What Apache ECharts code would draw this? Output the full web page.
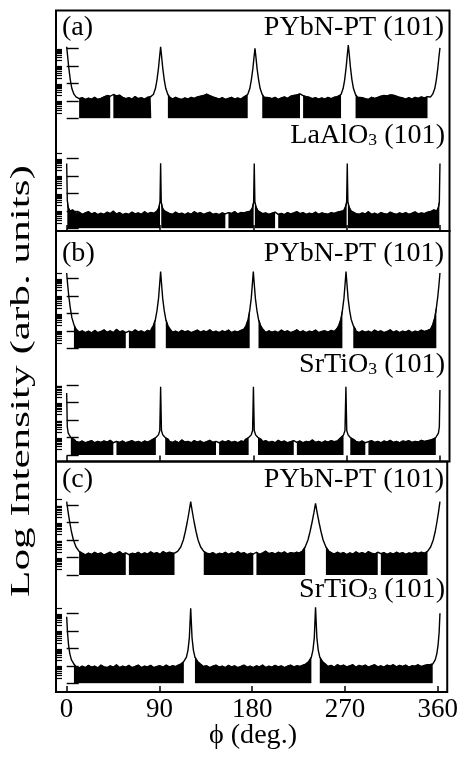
<!DOCTYPE html>
<html><head><meta charset="utf-8">
<script src="https://cdn.jsdelivr.net/npm/echarts@6/dist/echarts.min.js"></script>
<style>html,body{margin:0;padding:0;background:#fff}#c{width:461px;height:758px}</style>
</head><body><div id="c"></div>
<script>
// ---------- data ----------
const phiTicks = [0, 90, 180, 270, 360];
const phiTickLabels = ['0', '90', '180', '270', '360'];
const minorFactors = [2, 3, 4, 5, 6, 7, 8, 9];
const bgStep = 3; // background samples every 3 deg, phi = 0..360

// (a) PYbN-PT (101)
const bgA1 = [1.2,1.2,1.25,1.22,1.12,1.18,1.08,1.15,1.1,1.2,
 1.08,1.14,1.22,1.3,1.26,1.36,1.28,1.32,1.2,1.12,
 1.18,1.1,1.24,1.12,1.18,1.1,1.2,1.24,1.3,1.3,
 1.3,
 1.3,1.25,1.18,1.1,1.2,1.12,1.08,1.16,1.1,1.2,
 1.14,1.22,1.26,1.3,1.38,1.3,1.22,1.16,1.1,1.18,
 1.08,1.14,1.2,1.1,1.16,1.1,1.22,1.18,1.25,1.3,
 1.3,1.22,1.15,1.1,1.18,1.12,1.2,1.08,1.16,1.22,
 1.14,1.26,1.3,1.34,1.4,1.3,1.24,1.2,1.12,1.18,
 1.1,1.16,1.1,1.2,1.12,1.2,1.24,1.3,1.3,1.3,
 1.3,1.22,1.16,1.1,1.18,1.12,1.08,1.2,1.14,1.2,
 1.26,1.3,1.28,1.34,1.32,1.26,1.2,1.16,1.1,1.18,
 1.1,1.2,1.14,1.22,1.16,1.24,1.2,1.25,1.25,1.25];
const pkA1 = [[0,4.09],[1,3.5],[2,2.9],[3.5,2.2],[5,1.7],[7,1.38],[9,1.22],
 [81.6,1.22],[83.6,1.36],[85.6,1.7],[87.1,2.2],[88.6,2.9],[89.6,3.5],[90.6,4.09],[91.6,3.5],[92.6,2.9],[94.1,2.2],[95.6,1.7],[97.6,1.36],[99.6,1.2],
 [172.6,1.2],[174.6,1.36],[176.6,1.7],[178.1,2.2],[179.6,2.85],[180.6,3.45],[181.6,4.0],[182.6,3.45],[183.6,2.85],[185.1,2.2],[186.6,1.7],[188.6,1.36],[190.6,1.2],
 [262.6,1.2],[264.6,1.36],[266.6,1.7],[268.1,2.2],[269.6,2.95],[270.6,3.6],[271.6,4.19],[272.6,3.6],[273.6,2.95],[275.1,2.2],[276.6,1.7],[278.6,1.36],[280.6,1.2],
 [351,1.22],[353,1.38],[355,1.7],[356.5,2.2],[358,2.9],[359,3.5],[360,4.02]];
const fillA1 = [[9.6,43],[44,82],[96.4,175],[188,226],[227,265],[278,350]];

// (a) LaAlO3 (101)
const bgA2 = [1.0,0.95,1.05,0.85,0.92,0.8,0.88,0.95,0.82,0.9,
 0.78,0.86,0.8,0.92,0.84,0.98,0.82,0.9,0.78,0.85,
 0.8,0.92,0.82,0.88,0.8,0.95,0.83,0.9,0.86,0.98,
 1.0,
 0.98,0.9,0.85,0.8,0.92,0.82,0.86,0.78,0.88,0.8,
 0.95,0.84,0.9,0.8,0.86,0.92,0.8,0.85,0.78,0.88,
 0.82,0.9,0.85,0.95,0.82,0.9,0.88,0.94,0.98,1.0,
 1.0,0.92,0.84,0.88,0.8,0.86,0.92,0.8,0.85,0.78,
 0.9,0.82,0.88,0.95,0.84,0.9,0.8,0.86,0.82,0.92,
 0.8,0.88,0.84,0.8,0.9,0.85,0.92,0.96,1.0,1.0,
 1.0,0.9,0.84,0.8,0.88,0.82,0.95,0.8,0.86,0.78,
 0.9,0.84,0.8,0.92,0.85,0.8,0.88,0.82,0.9,0.8,
 0.86,0.94,0.82,0.88,0.84,0.92,0.96,1.05,1.0,1.0];
const pkA2 = [[0,3.7],[0.6,1.6],[1.5,1.2],[3,1.0],
 [87.2,1.0],[88.7,1.15],[90,1.5],[90.6,3.72],[91.2,1.5],[92.5,1.15],[94.2,1.0],
 [177.5,1.0],[179,1.15],[180.3,1.5],[180.9,3.7],[181.5,1.5],[182.8,1.2],[184.5,1.0],
 [267.2,1.0],[268.7,1.2],[270,1.5],[270.6,3.7],[271.2,1.5],[272.5,1.2],[274.2,1.0],
 [357,1.0],[358.5,1.2],[359.4,1.5],[360,3.7]];
const fillA2 = [[0.5,90],[91,155],[156,180.3],[181.5,203],[204,270],[271,359.5]];

// (b) PYbN-PT (101)
const bgB1 = [1.1,1.1,1.05,1.0,0.92,1.0,0.9,0.98,0.88,1.02,
 0.9,0.96,1.05,0.92,1.0,0.9,1.08,0.94,1.0,0.9,
 0.98,0.92,1.05,0.94,1.0,0.9,1.02,0.96,1.05,1.1,
 1.1,
 1.1,1.05,1.0,0.92,0.98,0.9,1.02,0.94,1.0,0.9,
 0.96,1.04,0.92,1.0,0.94,1.06,0.92,0.98,0.9,1.0,
 0.94,1.04,0.9,0.98,0.94,1.02,1.0,1.06,1.1,1.1,
 1.1,1.04,0.98,0.9,1.0,0.92,0.98,0.9,1.04,0.94,
 1.0,0.9,0.96,1.06,0.92,1.0,0.9,0.98,0.94,1.04,
 0.9,0.96,1.0,0.92,1.02,0.96,1.05,1.1,1.1,1.1,
 1.1,1.05,0.98,0.9,1.0,0.92,0.98,0.9,1.04,0.94,
 1.0,0.9,0.96,1.06,0.92,1.0,0.9,0.98,0.94,1.02,
 0.9,0.98,0.94,1.04,0.96,1.02,1.05,1.1,1.1,1.1];
const pkB1 = [[0,4.3],[1,3.6],[2,3.0],[3.5,2.3],[5,1.75],[7,1.35],[9,1.1],
 [81.6,1.1],[83.6,1.3],[85.6,1.65],[87.1,2.15],[88.6,2.85],[89.6,3.6],[90.6,4.38],[91.6,3.6],[92.6,2.85],[94.1,2.15],[95.6,1.65],[97.6,1.3],[99.6,1.1],
 [171,1.1],[173,1.3],[175,1.65],[176.5,2.15],[178,2.85],[179,3.6],[180,4.38],[181,3.6],[182,2.85],[183.5,2.15],[185,1.65],[187,1.3],[189,1.1],
 [260.4,1.1],[262.4,1.3],[264.4,1.65],[265.9,2.15],[267.4,2.85],[268.4,3.6],[269.4,4.38],[270.4,3.6],[271.4,2.85],[272.9,2.15],[274.4,1.65],[276.4,1.3],[278.4,1.1],
 [351,1.1],[353,1.35],[355,1.75],[356.5,2.3],[358,3.0],[359,3.6],[360,4.3]];
const fillB1 = [[6,58],[59,85.6],[95.6,177],[184.5,266.5],[276,357]];

// (b) SrTiO3 (101)
const bgB2 = [0.9,0.9,0.85,0.78,0.72,0.8,0.7,0.76,0.82,0.7,
 0.78,0.72,0.8,0.74,0.84,0.7,0.78,0.72,0.8,0.7,
 0.76,0.82,0.72,0.78,0.7,0.8,0.74,0.82,0.85,0.9,
 0.9,
 0.9,0.84,0.78,0.72,0.8,0.7,0.86,0.74,0.78,0.7,
 0.82,0.74,0.8,0.7,0.76,0.84,0.72,0.78,0.7,0.8,
 0.74,0.82,0.72,0.78,0.7,0.8,0.76,0.84,0.9,0.9,
 0.9,0.84,0.76,0.82,0.72,0.78,0.7,0.84,0.74,0.8,
 0.7,0.76,0.82,0.72,0.8,0.7,0.78,0.74,0.86,0.72,
 0.78,0.7,0.8,0.74,0.82,0.76,0.8,0.86,0.9,0.9,
 0.9,0.84,0.78,0.72,0.8,0.7,0.76,0.82,0.72,0.78,
 0.7,0.8,0.74,0.84,0.72,0.78,0.7,0.8,0.76,0.82,
 0.72,0.78,0.74,0.84,0.78,0.82,0.86,0.9,0.9,0.9];
const pkB2 = [[0,3.54],[0.6,1.6],[1.5,1.25],[4,1.0],[7,0.9],
 [83,0.9],[86,1.0],[88.5,1.15],[89.8,1.4],[90.6,3.9],[91.4,1.4],[92.7,1.15],[95,1.0],[98,0.9],
 [172.5,0.9],[175.5,1.0],[178,1.15],[179.3,1.4],[180.1,3.9],[180.9,1.4],[182.2,1.15],[184.5,1.0],[187.5,0.9],
 [261.5,0.9],[264.5,1.0],[267,1.15],[268.4,1.4],[269.3,3.9],[270.1,1.4],[271.4,1.15],[273.5,1.0],[276.5,0.9],
 [353,0.9],[356,1.0],[358.5,1.25],[359.4,1.6],[360,3.71]];
const fillB2 = [[3,47],[47.5,86.5],[94.5,145],[146,177],[183,220],[221,267],[272,290],[291,356]];

// (c) PYbN-PT (101)
const bgC1 = [1.3,1.3,1.3,1.3,1.28,1.22,1.15,1.25,1.18,1.3,
 1.2,1.26,1.14,1.22,1.3,1.18,1.24,1.34,1.2,1.26,
 1.16,1.24,1.2,1.3,1.18,1.26,1.2,1.32,1.22,1.28,
 1.18,1.34,1.24,1.3,1.26,1.3,1.3,1.3,1.3,1.3,
 1.3,1.3,1.3,1.3,1.3,1.26,1.2,1.28,1.16,1.24,
 1.2,1.3,1.18,1.26,1.2,1.34,1.22,1.28,1.16,1.24,
 1.2,1.3,1.18,1.26,1.36,1.22,1.28,1.2,1.3,1.24,
 1.32,1.2,1.28,1.24,1.3,1.3,1.3,1.3,1.3,1.3,
 1.3,1.3,1.3,1.3,1.3,1.28,1.2,1.3,1.22,1.28,
 1.16,1.26,1.2,1.32,1.22,1.28,1.2,1.34,1.24,1.2,
 1.3,1.22,1.28,1.18,1.26,1.2,1.3,1.22,1.28,1.18,
 1.26,1.22,1.3,1.24,1.3,1.28,1.3,1.3,1.3,1.3,
 1.3];
const pkC1 = [[0,4.19],[1.5,3.55],[3,3.0],[4.5,2.5],[6.5,2.0],[9,1.6],[12,1.35],[15,1.25],
 [104,1.25],[107,1.35],[110,1.6],[112.5,2.0],[114.5,2.5],[116.2,3.0],[118,3.6],[119.6,4.19],[121.2,3.6],[123,3.0],[124.7,2.5],[126.7,2.0],[129.2,1.6],[132.2,1.35],[135,1.25],
 [224,1.25],[227,1.35],[230,1.6],[232.7,2.0],[234.8,2.5],[236.6,3.0],[238.4,3.55],[240,4.1],[241.6,3.55],[243.4,3.0],[245.2,2.5],[247.3,2.0],[250,1.6],[253,1.35],[256,1.25],
 [345,1.25],[348,1.35],[351,1.6],[353.5,2.0],[355.5,2.5],[357,3.0],[358.5,3.55],[360,4.19]];
const fillC1 = [[12,57],[58,106],[130,180],[181,230],[250,301],[302,349]];

// (c) SrTiO3 (101)
const bgC2 = [1.05,1.05,1.0,0.95,0.88,0.98,0.9,1.02,0.92,0.98,
 0.88,1.04,0.94,0.9,1.0,0.92,1.06,0.9,0.98,0.92,
 1.02,0.9,0.96,1.04,0.9,0.98,0.94,1.02,0.9,0.96,
 1.0,0.92,1.04,0.94,1.0,0.96,1.05,1.08,1.1,1.1,
 1.1,1.1,1.08,1.05,0.96,1.0,0.9,0.98,1.04,0.92,
 0.98,0.9,1.02,0.94,1.0,0.9,0.96,1.04,0.92,0.98,
 0.9,1.0,0.94,1.04,0.9,0.98,0.92,1.02,0.94,1.0,
 0.9,0.98,1.04,0.94,1.0,0.96,1.04,1.08,1.1,1.1,
 1.1,1.1,1.08,1.04,0.96,1.02,0.92,1.06,0.98,1.04,
 0.94,1.0,1.06,0.92,1.02,0.96,1.04,0.92,1.0,1.06,
 0.94,1.0,0.92,1.04,0.98,1.06,0.94,1.02,0.96,1.04,
 0.92,1.0,0.98,1.06,0.96,1.02,1.06,1.08,1.1,1.1,
 1.1];
const pkC2 = [[0,3.8],[0.8,2.9],[1.8,2.2],[3,1.7],[4.5,1.35],[7,1.1],
 [110,1.1],[113,1.25],[115.5,1.5],[117,1.9],[118.3,2.6],[119.6,4.29],[120.9,2.6],[122.2,1.9],[123.7,1.5],[126.2,1.25],[129,1.1],
 [230.5,1.1],[233.5,1.25],[236,1.5],[237.5,1.9],[238.8,2.6],[240,4.34],[241.3,2.6],[242.6,1.9],[244.1,1.5],[246.6,1.25],[249.5,1.1],
 [353,1.1],[355.5,1.35],[357,1.7],[358.2,2.2],[359.2,2.9],[360,4.0]];
const fillC2 = [[6.4,114],[123.7,236.3],[244,355]];

// ---------- build ----------
const FONT = '"Liberation Serif", "Times New Roman", serif';
const XMIN = -10.3, XMAX = 369.2;
const PX_PER_DECADE = 17.5;
const G_LEFT = 56, G_WIDTH = 393.5;

function peakRanges(pk) {
  const rs = []; let start = pk[0][0], prev = pk[0][0];
  for (let i = 1; i < pk.length; i++) {
    if (pk[i][0] - prev > 6) { rs.push([start, prev]); start = pk[i][0]; }
    prev = pk[i][0];
  }
  rs.push([start, prev]);
  return rs;
}
function curveOf(bg, pk) {
  const rs = peakRanges(pk);
  const pts = bg.map((v, i) => [i * bgStep, v])
    .filter(p => !rs.some(r => p[0] >= r[0] && p[0] <= r[1]));
  return pts.concat(pk).sort((a, b) => a[0] - b[0]);
}
function fillOf(curve, segs) {
  const out = [];
  segs.forEach(s => {
    curve.forEach(p => { if (p[0] >= s[0] && p[0] <= s[1]) out.push(p); });
    out.push([s[1], '-']);
  });
  return out;
}

const traces = [
  { bg: bgA1, pk: pkA1, fill: fillA1, top: 45, h: 73.3 },
  { bg: bgA2, pk: pkA2, fill: fillA2, top: 153, h: 75.3 },
  { bg: bgB1, pk: pkB1, fill: fillB1, top: 271, h: 77.3 },
  { bg: bgB2, pk: pkB2, fill: fillB2, top: 380, h: 75 },
  { bg: bgC1, pk: pkC1, fill: fillC1, top: 498, h: 77 },
  { bg: bgC2, pk: pkC2, fill: fillC2, top: 606.7, h: 76.6 }
];
const panels = [ { top: 10.5, h: 220.5 }, { top: 231, h: 230.5 }, { top: 461.5, h: 230.5 } ];

const grid = [], xAxis = [], yAxis = [], series = [];
panels.forEach((p, i) => {
  grid.push({ left: G_LEFT, width: G_WIDTH, top: p.top, height: p.h, show: true,
    borderColor: '#000', borderWidth: 2, backgroundColor: 'transparent' });
  xAxis.push({ gridIndex: i, type: 'value', min: XMIN, max: XMAX,
    axisLine: { show: false }, splitLine: { show: false },
    axisTick: { show: true, inside: true, length: 6, customValues: phiTicks,
      lineStyle: { color: '#000', width: 1.5 } },
    axisLabel: { show: i === 2, customValues: phiTicks,
      formatter: v => phiTickLabels[phiTicks.indexOf(v)],
      fontSize: 27, fontFamily: FONT, color: '#000', margin: 4 } });
  yAxis.push({ gridIndex: i, type: 'value', show: false, min: 0, max: 1 });
});
traces.forEach((t, k) => {
  const gi = 3 + k;
  const ymax = t.h / PX_PER_DECADE;
  grid.push({ left: G_LEFT, width: G_WIDTH, top: t.top, height: t.h, show: false });
  xAxis.push({ gridIndex: gi, type: 'value', min: XMIN, max: XMAX, show: false });
  const majors = [], minors = [];
  for (let n = 0; n <= Math.floor(ymax); n++) {
    majors.push(n);
    minorFactors.forEach(f => { const v = n + Math.log10(f); if (v <= ymax) minors.push(v); });
  }
  const base = { gridIndex: gi, type: 'value', min: 0, max: ymax, position: 'left',
    axisLine: { show: false }, splitLine: { show: false }, axisLabel: { show: false } };
  yAxis.push(Object.assign({}, base, { axisTick: { show: true, inside: true, length: 12,
    customValues: majors, lineStyle: { color: '#000', width: 1.4 } } }));
  yAxis.push(Object.assign({}, base, { axisTick: { show: true, inside: true, length: 6,
    customValues: minors, lineStyle: { color: '#000', width: 1.2 } } }));
  const yi = 3 + 2 * k;
  const curve = curveOf(t.bg, t.pk);
  series.push({ type: 'line', xAxisIndex: gi, yAxisIndex: yi, data: fillOf(curve, t.fill),
    symbol: 'none', connectNulls: false, lineStyle: { width: 0.8, color: '#000' },
    areaStyle: { color: '#000', opacity: 1, origin: 'start' }, z: 2, silent: true });
  series.push({ type: 'line', xAxisIndex: gi, yAxisIndex: yi, data: curve,
    symbol: 'none', lineStyle: { width: 1.4, color: '#000' }, z: 3, silent: true });
});

const txt = (x, y, text, align, extra) => ({ type: 'text', x, y, z: 10, scaleX: 1.04,
  style: Object.assign({ text, fontSize: 27, fontFamily: FONT, fill: '#000',
    align, verticalAlign: 'middle' }, extra || {}) });
const richSub = { n: { fontSize: 27, fontFamily: FONT, fill: '#000', verticalAlign: 'bottom', lineHeight: 30 },
                  s: { fontSize: 17, fontFamily: FONT, fill: '#000', verticalAlign: 'bottom', lineHeight: 30 } };
const graphic = [
  txt(62, 28, '(a)', 'left'),
  txt(444, 28, 'PYbN-PT (101)', 'right'),
  txt(445, 134.5, '{n|LaAlO}{s|3}{n| (101)}', 'right', { rich: richSub }),
  txt(62, 254, '(b)', 'left'),
  txt(444, 254, 'PYbN-PT (101)', 'right'),
  txt(445, 363, '{n|SrTiO}{s|3}{n| (101)}', 'right', { rich: richSub }),
  txt(62, 480, '(c)', 'left'),
  txt(444, 480, 'PYbN-PT (101)', 'right'),
  txt(445, 588, '{n|SrTiO}{s|3}{n| (101)}', 'right', { rich: richSub }),
  txt(253, 736, '\u03D5 (deg.)', 'center'),
  { type: 'text', x: 22, y: 381, rotation: Math.PI / 2, scaleX: 1.6, z: 10,
    style: { text: 'Log Intensity (arb. units)', fontSize: 27, fontFamily: FONT, fill: '#000',
      align: 'center', verticalAlign: 'middle' } }
];

const chart = echarts.init(document.getElementById('c'), null, { renderer: 'canvas' });
chart.setOption({ animation: false, backgroundColor: '#fff', grid, xAxis, yAxis, series, graphic });
</script></body></html>
